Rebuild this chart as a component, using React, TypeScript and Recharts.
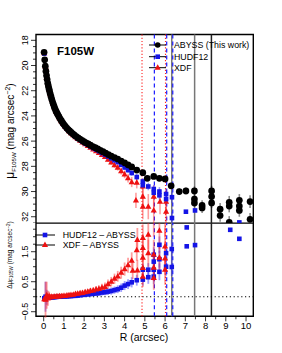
import {
  ScatterChart,
  Scatter,
  XAxis,
  YAxis,
  ErrorBar,
  ReferenceLine,
  ReferenceArea,
} from 'recharts'

// [R (arcsec), mu (mag arcsec^-2), error]
const abyss: [number, number, number][] = [
  [0.02, 18.95, 0.02], [0.05, 19.55, 0.02], [0.08, 20.05, 0.02], [0.11, 20.45, 0.02],
  [0.14, 20.8, 0.02], [0.17, 21.1, 0.02], [0.2, 21.4, 0.02], [0.23, 21.62, 0.02],
  [0.26, 21.84, 0.02], [0.29, 22.02, 0.02], [0.32, 22.22, 0.02], [0.36, 22.45, 0.02],
  [0.4, 22.68, 0.02], [0.44, 22.9, 0.02], [0.48, 23.08, 0.02], [0.52, 23.27, 0.03],
  [0.56, 23.43, 0.03], [0.61, 23.62, 0.03], [0.66, 23.78, 0.03], [0.71, 23.93, 0.03],
  [0.76, 24.08, 0.03], [0.82, 24.25, 0.03], [0.88, 24.4, 0.03], [0.94, 24.55, 0.03],
  [1.0, 24.68, 0.04], [1.07, 24.82, 0.04], [1.14, 24.96, 0.04], [1.21, 25.08, 0.04],
  [1.28, 25.19, 0.04], [1.36, 25.31, 0.04], [1.44, 25.42, 0.05], [1.52, 25.53, 0.05],
  [1.61, 25.64, 0.05], [1.7, 25.75, 0.05], [1.79, 25.84, 0.05], [1.89, 25.94, 0.06],
  [1.99, 26.04, 0.06], [2.09, 26.13, 0.06], [2.2, 26.22, 0.06], [2.31, 26.32, 0.07],
  [2.43, 26.43, 0.07], [2.55, 26.52, 0.08], [2.67, 26.62, 0.08], [2.8, 26.73, 0.08],
  [2.93, 26.84, 0.09], [3.06, 26.95, 0.09], [3.2, 27.07, 0.1], [3.34, 27.18, 0.1],
  [3.5, 27.3, 0.11], [3.66, 27.42, 0.12], [3.83, 27.58, 0.12], [4.0, 27.72, 0.13],
  [4.17, 27.88, 0.14], [4.35, 28.05, 0.15], [4.6, 28.3, 0.16], [4.9, 28.5, 0.18],
  [5.12, 28.95, 0.2], [5.44, 28.8, 0.2], [5.72, 28.95, 0.22], [6.0, 29.0, 0.22],
  [6.3, 29.55, 0.25], [6.7, 30.0, 0.25], [7.03, 29.95, 0.28], [7.45, 29.95, 0.35],
  [7.45, 30.6, 0.35], [7.45, 30.9, 0.35], [7.83, 31.1, 0.4], [7.83, 31.3, 0.4],
  [8.3, 29.95, 0.4], [8.3, 30.4, 0.4], [8.3, 30.9, 0.4], [8.72, 31.4, 0.5],
  [8.72, 31.9, 0.5], [9.17, 30.85, 0.5], [9.17, 31.15, 0.5], [9.17, 32.45, 0.5],
  [9.67, 30.7, 0.5], [9.67, 31.15, 0.5], [9.67, 31.5, 0.5], [10.2, 30.8, 0.5],
  [10.2, 32.2, 0.5],
]

const hudf12: [number, number, number][] = [
  [0.03, 19.05, 0.03], [0.09, 20.2, 0.03], [0.15, 20.88, 0.03], [0.21, 21.47, 0.03],
  [0.27, 21.88, 0.03], [0.33, 22.27, 0.03], [0.4, 22.68, 0.03], [0.47, 23.03, 0.03],
  [0.54, 23.34, 0.04], [0.62, 23.64, 0.04], [0.7, 23.9, 0.04], [0.78, 24.15, 0.04],
  [0.87, 24.4, 0.04], [0.96, 24.61, 0.04], [1.05, 24.81, 0.05], [1.15, 24.99, 0.05],
  [1.25, 25.17, 0.05], [1.35, 25.32, 0.05], [1.46, 25.48, 0.06], [1.57, 25.63, 0.06],
  [1.68, 25.77, 0.06], [1.8, 25.9, 0.07], [1.92, 26.03, 0.07], [2.05, 26.17, 0.08],
  [2.18, 26.28, 0.08], [2.31, 26.41, 0.09], [2.45, 26.55, 0.09], [2.59, 26.66, 0.1],
  [2.73, 26.79, 0.1], [2.88, 26.94, 0.11], [3.03, 27.07, 0.12], [3.18, 27.22, 0.13],
  [3.34, 27.37, 0.14], [3.5, 27.52, 0.15], [3.66, 27.67, 0.16], [3.83, 27.88, 0.17],
  [4.0, 28.09, 0.18], [4.17, 28.3, 0.2], [4.35, 28.53, 0.22], [4.6, 28.85, 0.24],
  [4.9, 29.2, 0.25], [4.9, 29.5, 0.25], [5.17, 29.6, 0.3], [5.44, 29.8, 0.3],
  [5.44, 30.1, 0.3], [5.72, 30.0, 0.35], [5.72, 30.3, 0.35], [6.05, 30.2, 0.4],
  [6.05, 30.6, 0.4], [6.34, 30.45, 0.45], [6.34, 32.1, 0.5], [7.03, 31.6, 0],
  [7.48, 31.5, 0], [9.67, 32.45, 0],
]

const xdf: [number, number, number][] = [
  [0.03, 19.02, 0.04], [0.09, 20.1, 0.04], [0.15, 20.95, 0.04], [0.21, 21.45, 0.04],
  [0.27, 21.92, 0.04], [0.33, 22.28, 0.04], [0.4, 22.7, 0.04], [0.47, 23.04, 0.04],
  [0.54, 23.35, 0.05], [0.62, 23.66, 0.05], [0.7, 23.91, 0.05], [0.78, 24.17, 0.05],
  [0.87, 24.42, 0.05], [0.96, 24.63, 0.05], [1.05, 24.83, 0.06], [1.15, 25.02, 0.06],
  [1.25, 25.2, 0.06], [1.35, 25.36, 0.07], [1.46, 25.52, 0.07], [1.57, 25.69, 0.08],
  [1.68, 25.83, 0.08], [1.8, 25.97, 0.09], [1.92, 26.1, 0.09], [2.05, 26.25, 0.1],
  [2.18, 26.37, 0.1], [2.31, 26.51, 0.11], [2.45, 26.66, 0.12], [2.59, 26.79, 0.13],
  [2.73, 26.93, 0.14], [2.88, 27.1, 0.15], [3.03, 27.25, 0.16], [3.18, 27.47, 0.18],
  [3.34, 27.68, 0.2], [3.5, 27.9, 0.22], [3.66, 28.1, 0.24], [3.83, 28.38, 0.26],
  [4.0, 28.64, 0.3], [4.17, 28.93, 0.35], [4.35, 29.25, 0.4], [4.56, 30.7, 0.6],
  [4.6, 29.3, 0.45], [4.9, 29.6, 0.6], [4.9, 30.4, 0.8], [4.9, 31.2, 1.0],
  [5.17, 31.2, 1.0], [5.44, 30.4, 0.9], [5.44, 31.5, 1.0], [5.75, 30.8, 1.0],
  [6.05, 30.8, 1.0], [6.05, 31.6, 1.1],
]

// [R (arcsec), delta mu, error]
const hudfMinusAbyss: [number, number, number][] = [
  [0.03, -0.05, 0.05], [0.09, 0.0, 0.5], [0.15, -0.02, 0.25], [0.21, -0.03, 0.12],
  [0.27, -0.02, 0.08], [0.33, -0.03, 0.06], [0.4, -0.02, 0.05], [0.47, -0.02, 0.04],
  [0.54, -0.01, 0.04], [0.62, -0.01, 0.04], [0.7, 0.0, 0.04], [0.78, 0.0, 0.04],
  [0.87, 0.0, 0.04], [0.96, 0.01, 0.04], [1.05, 0.01, 0.04], [1.15, 0.01, 0.05],
  [1.25, 0.02, 0.05], [1.35, 0.02, 0.05], [1.46, 0.03, 0.05], [1.57, 0.03, 0.05],
  [1.68, 0.04, 0.06], [1.8, 0.05, 0.06], [1.92, 0.06, 0.06], [2.05, 0.07, 0.07],
  [2.18, 0.08, 0.07], [2.31, 0.09, 0.08], [2.45, 0.1, 0.08], [2.59, 0.11, 0.09],
  [2.73, 0.12, 0.09], [2.88, 0.14, 0.1], [3.03, 0.15, 0.1], [3.18, 0.17, 0.11],
  [3.34, 0.19, 0.12], [3.5, 0.22, 0.12], [3.66, 0.25, 0.13], [3.83, 0.3, 0.14],
  [4.0, 0.37, 0.15], [4.17, 0.42, 0.16], [4.35, 0.48, 0.17], [4.6, 0.55, 0.18],
  [4.9, 0.57, 0.2], [4.9, 0.9, 0.2], [5.17, 0.65, 0.22], [5.17, 0.9, 0.22],
  [5.44, 0.67, 0.25], [5.44, 0.9, 0.25], [5.44, 1.17, 0.25], [5.44, 1.4, 0.25],
  [5.72, 0.83, 0.28], [5.72, 1.25, 0.28], [5.72, 1.73, 0.28], [6.05, 1.0, 0.3],
  [6.05, 1.45, 0.3], [6.33, 0.99, 0.3], [6.33, 1.59, 0.3], [7.07, 1.68, 0],
  [7.07, 2.31, 0], [7.48, 1.72, 0], [9.22, 2.23, 0], [9.67, 1.93, 0],
]

const xdfMinusAbyss: [number, number, number][] = [
  [0.03, -0.08, 0.08], [0.09, -0.1, 0.6], [0.15, 0.05, 0.45], [0.21, -0.05, 0.25],
  [0.27, 0.02, 0.15], [0.33, -0.02, 0.1], [0.4, 0.0, 0.08], [0.47, -0.01, 0.06],
  [0.54, 0.0, 0.05], [0.62, 0.01, 0.05], [0.7, 0.01, 0.05], [0.78, 0.02, 0.05],
  [0.87, 0.02, 0.05], [0.96, 0.03, 0.05], [1.05, 0.03, 0.05], [1.15, 0.04, 0.05],
  [1.25, 0.05, 0.06], [1.35, 0.06, 0.06], [1.46, 0.07, 0.06], [1.57, 0.09, 0.07],
  [1.68, 0.1, 0.07], [1.8, 0.12, 0.08], [1.92, 0.13, 0.08], [2.05, 0.15, 0.09],
  [2.18, 0.17, 0.09], [2.31, 0.19, 0.1], [2.45, 0.21, 0.1], [2.59, 0.24, 0.11],
  [2.73, 0.26, 0.12], [2.88, 0.3, 0.13], [3.03, 0.33, 0.14], [3.18, 0.42, 0.15],
  [3.34, 0.5, 0.16], [3.5, 0.6, 0.17], [3.66, 0.68, 0.18], [3.83, 0.8, 0.2],
  [4.0, 0.92, 0.22], [4.17, 1.05, 0.25], [4.35, 1.2, 0.28], [4.4, 0.87, 0.28],
  [4.6, 1.55, 0.35], [4.63, 1.89, 0.4], [4.63, 0.88, 0.35], [4.9, 1.96, 0.45],
  [4.9, 1.63, 0.45], [4.9, 1.3, 0.4], [4.9, 0.96, 0.4], [4.9, 0.67, 0.35],
  [5.17, 2.07, 0.5], [5.17, 1.45, 0.45], [5.44, 1.4, 0.5], [5.44, 0.97, 0.45],
  [5.44, 0.63, 0.4], [5.44, 2.6, 0.6], [5.72, 2.2, 0.6], [5.72, 1.3, 0.5],
  [6.0, 1.68, 0.6], [6.0, 1.28, 0.55], [6.0, 0.9, 0.5], [6.0, 2.7, 0.7],
]

// vertical markers (arcsec)
const redDotted = [4.86, 6.02]
const blueDashed = [5.47, 6.08, 6.38]
const graySolid = [6.33, 7.46]
const blackSolid = [8.29]

const xDomain = [-0.38, 10.36]
const muDomain = [17.54, 32.52]
const dDomain = [-0.653, 2.457]
const topTicks = [0, 1.47, 2.94, 4.41, 5.88, 7.35, 8.82, 10.29]
const xTicks = Array.from({ length: 21 }, (_, i) => i * 0.5)
const muTicks = Array.from({ length: 30 }, (_, i) => 18 + i * 0.5)
const dTicks = Array.from({ length: 12 }, (_, i) => -0.5 + i * 0.25)

const FONT = '"Liberation Sans", Arial, Helvetica, sans-serif'
const RED = '#ee1111'
const BLUE = '#1414e6'

const toPts = (rows: [number, number, number][]) =>
  rows.map(([r, v, e]) => ({ r, v, e }))

// ---- markers ----

const Dot = (p: any) => <circle cx={p.cx} cy={p.cy} r={3.35} fill="#000" />
const Sq = (p: any) => (
  <rect x={p.cx - 2.3} y={p.cy - 2.3} width={4.6} height={4.6} fill={BLUE} />
)
const Tri = (p: any) => (
  <path
    d={`M${p.cx},${p.cy - 3.4} L${p.cx + 3.1},${p.cy + 2.1} L${p.cx - 3.1},${p.cy + 2.1} Z`}
    fill={RED}
  />
)

// ---- ticks ----

function MuTick({ x, y, payload }: any) {
  const v = payload.value
  const major = Math.abs(v % 2) < 1e-6
  return (
    <g>
      <line x1={x} x2={x - (major ? 5 : 3)} y1={y} y2={y} stroke="#000" strokeWidth={0.8} />
      {major && (
        <text
          x={x - 11}
          y={y}
          transform={`rotate(-90 ${x - 11} ${y})`}
          textAnchor="middle"
          dominantBaseline="central"
          fontSize={9}
          fontFamily={FONT}
        >
          {v}
        </text>
      )}
    </g>
  )
}

function DTick({ x, y, payload }: any) {
  const v = payload.value
  const major = Math.abs((v + 0.5) % 1) < 1e-6
  const label = v < 0 ? `−${Math.abs(v)}` : `${v}`
  return (
    <g>
      <line x1={x} x2={x - (major ? 5 : 3)} y1={y} y2={y} stroke="#000" strokeWidth={0.8} />
      {major && (
        <text
          x={x - 11}
          y={y}
          transform={`rotate(-90 ${x - 11} ${y})`}
          textAnchor="middle"
          dominantBaseline="central"
          fontSize={9}
          fontFamily={FONT}
        >
          {label}
        </text>
      )}
    </g>
  )
}

function RTick({ x, y, payload }: any) {
  const v = payload.value
  const major = Math.abs(v % 1) < 1e-6
  return (
    <g>
      <line x1={x} x2={x} y1={y} y2={y + (major ? 5 : 3)} stroke="#000" strokeWidth={0.8} />
      {major && (
        <text x={x} y={y + 13} textAnchor="middle" fontSize={9.5} fontFamily={FONT}>
          {v}
        </text>
      )}
    </g>
  )
}

function TopTick({ x, y }: any) {
  return <line x1={x} x2={x} y1={y} y2={y - 4} stroke="#000" strokeWidth={0.8} />
}

function vLines() {
  return [
    ...redDotted.map((v) => (
      <ReferenceLine key={`r${v}`} x={v} stroke="#ff2020" strokeWidth={1.1} strokeDasharray="1.2 2" />
    )),
    ...graySolid.map((v) => (
      <ReferenceLine key={`g${v}`} x={v} stroke="#777" strokeWidth={1.5} />
    )),
    ...blackSolid.map((v) => (
      <ReferenceLine key={`k${v}`} x={v} stroke="#222" strokeWidth={1.5} />
    )),
    ...blueDashed.map((v) => (
      <ReferenceLine key={`b${v}`} x={v} stroke="#1a1aff" strokeWidth={1.2} strokeDasharray="4 3" />
    )),
  ]
}

// ---- panels ----

function ProfilePanel() {
  return (
    <ScatterChart width={282} height={223.3} margin={{ top: 34.5, right: 28.7, bottom: 0, left: 0 }}>
      <XAxis
        type="number"
        dataKey="r"
        orientation="top"
        height={0}
        domain={xDomain}
        ticks={topTicks}
        interval={0}
        allowDataOverflow
        axisLine={false}
        tickLine={false}
        tickSize={0}
        tickMargin={0}
        tick={<TopTick />}
      />
      <YAxis
        type="number"
        dataKey="v"
        width={36}
        domain={muDomain}
        reversed
        ticks={muTicks}
        interval={0}
        allowDataOverflow
        axisLine={false}
        tickLine={false}
        tickSize={0}
        tickMargin={0}
        tick={<MuTick />}
      />
      {vLines()}
      <Scatter data={toPts(xdf)} shape={Tri} isAnimationActive={false}>
        <ErrorBar dataKey="e" direction="y" width={0} stroke="rgba(255,40,40,0.45)" strokeWidth={1.6} />
      </Scatter>
      <Scatter data={toPts(hudf12)} shape={Sq} isAnimationActive={false}>
        <ErrorBar dataKey="e" direction="y" width={0} stroke="rgba(40,40,255,0.45)" strokeWidth={1.6} />
      </Scatter>
      <Scatter data={toPts(abyss)} shape={Dot} isAnimationActive={false}>
        <ErrorBar dataKey="e" direction="y" width={0} stroke="rgba(0,0,0,0.45)" strokeWidth={1.6} />
      </Scatter>
      <ReferenceArea
        x1={xDomain[0]}
        x2={xDomain[1]}
        y1={muDomain[0]}
        y2={muDomain[1]}
        fill="none"
        stroke="#000"
        strokeWidth={1.4}
      />
    </ScatterChart>
  )
}

function DeltaPanel() {
  return (
    <ScatterChart width={282} height={130} margin={{ top: 0, right: 28.7, bottom: 0, left: 0 }}>
      <XAxis
        type="number"
        dataKey="r"
        height={36.7}
        domain={xDomain}
        ticks={xTicks}
        interval={0}
        allowDataOverflow
        axisLine={false}
        tickLine={false}
        tickSize={0}
        tickMargin={0}
        tick={<RTick />}
      />
      <YAxis
        type="number"
        dataKey="v"
        width={36}
        domain={dDomain}
        ticks={dTicks}
        interval={0}
        allowDataOverflow
        axisLine={false}
        tickLine={false}
        tickSize={0}
        tickMargin={0}
        tick={<DTick />}
      />
      {vLines()}
      <ReferenceLine y={0} stroke="#000" strokeWidth={1.1} strokeDasharray="1.2 2.6" />
      <Scatter data={toPts(hudfMinusAbyss)} shape={Sq} isAnimationActive={false}>
        <ErrorBar dataKey="e" direction="y" width={0} stroke="rgba(40,40,255,0.45)" strokeWidth={1.8} />
      </Scatter>
      <Scatter data={toPts(xdfMinusAbyss)} shape={Tri} isAnimationActive={false}>
        <ErrorBar dataKey="e" direction="y" width={0} stroke="rgba(255,40,40,0.45)" strokeWidth={1.8} />
      </Scatter>
      <ReferenceArea
        x1={xDomain[0]}
        x2={xDomain[1]}
        y1={dDomain[0]}
        y2={dDomain[1]}
        fill="none"
        stroke="#000"
        strokeWidth={1.4}
      />
    </ScatterChart>
  )
}

// ---- text, legends ----

function Labels() {
  return (
    <svg width={282} height={353} style={{ position: 'absolute', left: 0, top: 0, pointerEvents: 'none' }}>
      <g fontFamily={FONT} fill="#000">
        <text x={57} y={55} fontSize={11.5} fontWeight="bold">F105W</text>

        <text transform="rotate(-90)" x={-131} y={13.5} textAnchor="middle" fontSize={10}>
          <tspan fontSize={12}>μ</tspan>
          <tspan fontSize={6} dy={2}>F105W</tspan>
          <tspan dy={-2}> (mag arcsec</tspan>
          <tspan fontSize={7} dy={-4}>−2</tspan>
          <tspan dy={4}>)</tspan>
        </text>

        <text transform="rotate(-90)" x={-255} y={12} textAnchor="middle" fontSize={6.5}>
          <tspan>Δμ</tspan>
          <tspan fontSize={4.5} dy={1.2}>F105W</tspan>
          <tspan dy={-1.2}> (mag arcsec</tspan>
          <tspan fontSize={4.5} dy={-2.5}>−2</tspan>
          <tspan dy={2.5}>)</tspan>
        </text>

        <text x={144} y={340.5} textAnchor="middle" fontSize={10.5}>R (arcsec)</text>

        {/* top legend */}
        <line x1={149} x2={166} y1={45} y2={45} stroke="#000" strokeWidth={1} />
        <circle cx={157.7} cy={45} r={2.8} fill="#000" />
        <line x1={149} x2={166} y1={56.7} y2={56.7} stroke="#000" strokeWidth={1} />
        <rect x={155.4} y={54.4} width={4.6} height={4.6} fill={BLUE} />
        <line x1={149} x2={166} y1={67.7} y2={67.7} stroke="#000" strokeWidth={1} />
        <path d="M157.7,64.3 L160.8,69.8 L154.6,69.8 Z" fill={RED} />
        <text x={174} y={48} fontSize={8.8}>ABYSS (This work)</text>
        <text x={174} y={59.7} fontSize={8.8}>HUDF12</text>
        <text x={174} y={70.7} fontSize={8.8}>XDF</text>

        {/* bottom legend */}
        <line x1={35} x2={55} y1={235} y2={235} stroke="#000" strokeWidth={1} />
        <rect x={42.7} y={232.7} width={4.6} height={4.6} fill={BLUE} />
        <line x1={35} x2={55} y1={245} y2={245} stroke="#000" strokeWidth={1} />
        <path d="M45,241.6 L48.1,247.1 L41.9,247.1 Z" fill={RED} />
        <text x={62.7} y={238} fontSize={8.8}>HUDF12 – ABYSS</text>
        <text x={62.7} y={248} fontSize={8.8}>XDF – ABYSS</text>
      </g>
    </svg>
  )
}

export default function App() {
  return (
    <div style={{ position: 'absolute', left: 0, top: 0, width: 282, height: 353, background: '#fff' }}>
      <div style={{ position: 'absolute', left: 0, top: 0 }}>
        <ProfilePanel />
      </div>
      <div style={{ position: 'absolute', left: 0, top: 223.3 }}>
        <DeltaPanel />
      </div>
      <Labels />
    </div>
  )
}
